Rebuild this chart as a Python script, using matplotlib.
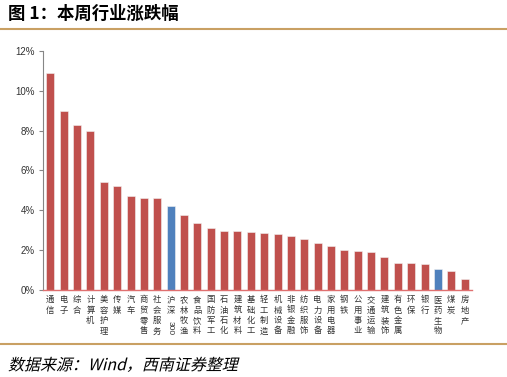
import matplotlib
matplotlib.use("Agg")
import matplotlib.pyplot as plt
from matplotlib.font_manager import FontProperties
from matplotlib.patches import PathPatch
from matplotlib.textpath import TextPath
from matplotlib.transforms import Affine2D, blended_transform_factory

plt.rcParams["font.family"] = ["Noto Sans CJK SC", "DejaVu Sans"]

# 本周行业涨跌幅 (%)
industries = ["通信", "电子", "综合", "计算机", "美容护理", "传媒", "汽车", "商贸零售",
              "社会服务", "沪深300", "农林牧渔", "食品饮料", "国防军工", "石油石化",
              "建筑材料", "基础化工", "轻工制造", "机械设备", "非银金融", "纺织服饰",
              "电力设备", "家用电器", "钢铁", "公用事业", "交通运输", "建筑装饰",
              "有色金属", "环保", "银行", "医药生物", "煤炭", "房地产"]
changes = [10.88, 9.00, 8.30, 8.00, 5.41, 5.23, 4.74, 4.61, 4.61, 4.23, 3.78, 3.34,
           3.10, 2.97, 2.95, 2.89, 2.87, 2.79, 2.72, 2.55, 2.34, 2.22, 2.02, 1.94,
           1.89, 1.64, 1.37, 1.35, 1.30, 1.07, 0.97, 0.55]
highlight = ["沪深300", "医药生物"]
yticks = [0, 2, 4, 6, 8, 10, 12]

RED = "#C0504D"
BLUE = "#4F81BD"
DPI = 100

fig = plt.figure(figsize=(5.07, 3.77), dpi=DPI)
ax = fig.add_axes([0.0848, 0.2308, 0.8462, 0.6339])

x = list(range(len(industries)))
colors = [BLUE if n in highlight else RED for n in industries]
ax.bar(x, changes, width=0.6, color=colors, edgecolor="#f2f2f2", linewidth=0.4, zorder=2)

ax.set_xlim(-0.55, len(industries) - 0.45)
ax.set_ylim(0, 12)
ax.set_yticks(yticks)
ax.set_yticklabels([f"{t}%" for t in yticks], fontsize=7, family=["Liberation Sans"],
                   color="#333333")
ax.tick_params(axis="y", direction="out", length=3, color="#868686", pad=3)
ax.set_xticks([])
for s in ["top", "right"]:
    ax.spines[s].set_visible(False)
ax.spines["left"].set_color("#868686")
ax.spines["left"].set_linewidth(0.8)
ax.spines["bottom"].set_color("#E07070")
ax.spines["bottom"].set_linewidth(1.0)

# vertical category labels
trans = blended_transform_factory(ax.transData, ax.transAxes)
for i, name in enumerate(industries):
    if name == "沪深300":
        ax.text(i, -0.022, "沪\n深", transform=trans, ha="center", va="top",
                fontsize=6, linespacing=1.2, color="#333333")
        ax.text(i, -0.13, "300", transform=trans, ha="center", va="top",
                rotation=-90, fontsize=6, family=["Liberation Sans"], color="#333333")
    else:
        ax.text(i, -0.022, "\n".join(name), transform=trans, ha="center", va="top",
                fontsize=6, linespacing=1.2, color="#333333")

# title and lines
fig.text(0.016, 0.962, "图 1：本周行业涨跌幅", fontsize=12.5, fontweight="bold",
         ha="left", va="center")
fig.add_artist(plt.Line2D([0.0, 1.0], [0.922, 0.922], color="#C9A063", linewidth=1.5))
fig.add_artist(plt.Line2D([0.0, 1.0], [0.087, 0.087], color="#C9A063", linewidth=1.5))

# slanted source note (CJK fonts have no italic face)
src_path = TextPath((0, 0), "数据来源：Wind，西南证券整理", size=11.5,
                    prop=FontProperties(family=["Noto Sans CJK SC"]))
src_tf = Affine2D().skew_deg(14, 0).scale(DPI / 72).translate(8, 377 * 0.018)
fig.add_artist(PathPatch(src_path, transform=src_tf, facecolor="black",
                         edgecolor="none"))

plt.savefig("out.png", dpi=DPI)
plt.close()
